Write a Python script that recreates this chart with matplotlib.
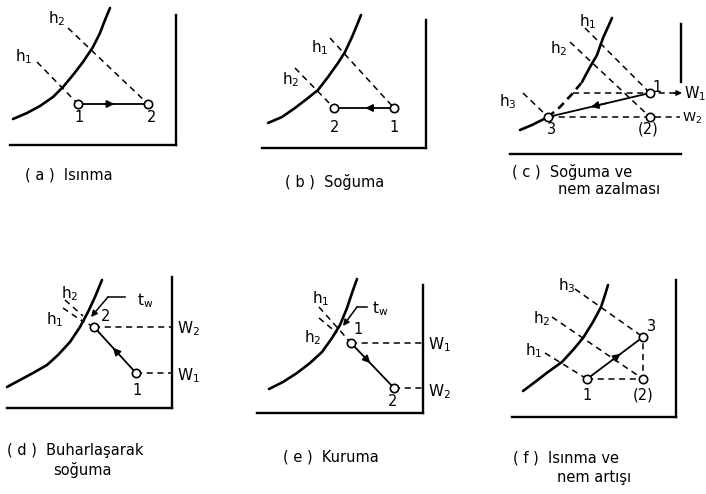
import matplotlib.pyplot as plt

plt.rcParams['font.family'] = ['DejaVu Sans']
plt.rcParams['mathtext.default'] = 'regular'

W, H = 706, 494

# local units in each panel: x = dry bulb (0 at frame left), y = humidity ratio (0 at frame bottom)
# (a) heating
sat_a_x = [3, 17, 30, 43, 53, 63, 73, 83, 90, 95, 100]
sat_a_y = [26, 32, 39, 48, 58, 70, 83, 98, 112, 125, 137]
st_a_x = [68, 138]
st_a_y = [41, 41]
h_a_x = [27, 58]
h_a_y = [83, 117]

# (b) cooling
sat_b_x = [6, 20, 33, 46, 56, 66, 76, 83, 90, 95, 99]
sat_b_y = [25, 31, 40, 50, 58, 71, 85, 96, 111, 123, 133]
st_b_x = [132, 72]
st_b_y = [40, 40]
h_b_x = [68, 33]
h_b_y = [110, 80]

# (c) cooling and dehumidifying: states 1, (2), 3
sat_c_x = [10, 22, 38, 50, 63, 72, 80, 87, 93, 98, 102]
sat_c_y = [24, 29, 37, 47, 61, 72, 87, 99, 116, 127, 136]
st_c_x = [140, 140, 38]
st_c_y = [61, 37, 37]
h_c_x = [75, 60, 13]
h_c_y = [126, 112, 61]

# (d) evaporative cooling
sat_d_x = [0, 13, 26, 40, 51, 63, 73, 81, 88, 95]
sat_d_y = [21, 28, 35, 43, 53, 66, 81, 96, 111, 128]
st_d_x = [129, 87]
st_d_y = [35, 81]
h_d_x = [56, 58]
h_d_y = [100, 108]

# (e) drying
sat_e_x = [12, 26, 40, 53, 65, 75, 83, 90, 95, 100]
sat_e_y = [24, 31, 40, 50, 61, 75, 88, 105, 120, 134]
st_e_x = [94, 137]
st_e_y = [70, 25]
h_e_x = [62, 62]
h_e_y = [106, 95]

# (f) heating and humidifying: states 1, (2), 3
sat_f_x = [11, 23, 36, 50, 61, 71, 81, 89, 93, 96]
sat_f_y = [26, 35, 45, 55, 67, 79, 95, 110, 122, 132]
st_f_x = [75, 131, 131]
st_f_y = [38, 38, 80]
h_f_x = [33, 40, 63]
h_f_y = [64, 100, 128]

fig = plt.figure(figsize=(W / 100, H / 100), dpi=100)


def panel(left, top, right, bottom):
    ax = fig.add_axes([left / W, 1 - bottom / H, (right - left) / W, (bottom - top) / H])
    ax.set_xlim(0, right - left)
    ax.set_ylim(0, bottom - top)
    ax.spines['top'].set_visible(False)
    ax.spines['left'].set_visible(False)
    ax.spines['bottom'].set_linewidth(1.7)
    ax.spines['right'].set_linewidth(1.7)
    ax.set_xticks([])
    ax.set_yticks([])
    ax.patch.set_alpha(0)
    return ax


def sat(ax, x, y, ls='-'):
    ax.plot(x, y, color='k', lw=1.9, ls=ls, clip_on=False,
            solid_capstyle='round', solid_joinstyle='round')


def dash(ax, x, y):
    ax.plot(x, y, color='k', lw=1.1, ls=(0, (4, 3)), clip_on=False)


def flow(ax, p, q, frac=0.5):
    ax.plot([p[0], q[0]], [p[1], q[1]], color='k', lw=1.3, clip_on=False)
    hx = p[0] + frac * (q[0] - p[0])
    hy = p[1] + frac * (q[1] - p[1])
    tx = p[0] + (frac - 0.15) * (q[0] - p[0])
    ty = p[1] + (frac - 0.15) * (q[1] - p[1])
    ax.annotate('', xy=(hx, hy), xytext=(tx, ty),
                arrowprops=dict(arrowstyle='-|>', color='k', lw=1.2,
                                mutation_scale=11, shrinkA=0, shrinkB=0))


def states(ax, x, y):
    ax.plot(x, y, 'o', ms=6, mfc='white', mec='k', mew=1.2, clip_on=False, zorder=5)


def label(ax, x, y, s, size=11, ha='center'):
    ax.text(x, y, s, fontsize=size, ha=ha, va='center', clip_on=False)


def caption(ax, x, y, s):
    ax.text(x, y, s, fontsize=10.5, ha='left', va='center')


# (a)
ax = panel(10, 15, 176, 145)
sat(ax, sat_a_x, sat_a_y)
for i in range(2):
    dash(ax, [h_a_x[i], st_a_x[i]], [h_a_y[i], st_a_y[i]])
flow(ax, (st_a_x[0], st_a_y[0]), (st_a_x[1], st_a_y[1]), 0.52)
states(ax, st_a_x, st_a_y)
label(ax, 14, 88, 'h$_1$')
label(ax, 47, 126, 'h$_2$')
label(ax, 69, 27, '1', 10.5)
label(ax, 142, 27, '2', 10.5)
caption(ax, 15, -30, '( a )  Isınma')

# (b)
ax = panel(262, 20, 426, 148)
sat(ax, sat_b_x, sat_b_y)
for i in range(2):
    dash(ax, [h_b_x[i], st_b_x[i]], [h_b_y[i], st_b_y[i]])
flow(ax, (st_b_x[0], st_b_y[0]), (st_b_x[1], st_b_y[1]), 0.48)
states(ax, st_b_x, st_b_y)
label(ax, 58, 100, 'h$_1$')
label(ax, 29, 68, 'h$_2$')
label(ax, 73, 21, '2', 10.5)
label(ax, 132, 21, '1', 10.5)
caption(ax, 23, -34, '( b )  Soğuma')

# (c)
ax = panel(510, 24, 681, 154)
ax.spines['right'].set_bounds(72, 130)
sat(ax, sat_c_x[:3], sat_c_y[:3])
sat(ax, sat_c_x[2:6], sat_c_y[2:6], ls=(0, (3, 2)))
sat(ax, sat_c_x[5:], sat_c_y[5:])
for i in range(3):
    dash(ax, [h_c_x[i], st_c_x[i]], [h_c_y[i], st_c_y[i]])
dash(ax, [sat_c_x[4], st_c_x[0], 166], [st_c_y[0], st_c_y[0], st_c_y[0]])
ax.annotate('', xy=(172, st_c_y[0]), xytext=(164, st_c_y[0]),
            arrowprops=dict(arrowstyle='-|>', color='k', lw=1.0, mutation_scale=8,
                            shrinkA=0, shrinkB=0), annotation_clip=False)
dash(ax, [st_c_x[2], st_c_x[1], 170], [st_c_y[2], st_c_y[1], st_c_y[1]])
flow(ax, (st_c_x[0], st_c_y[0]), (st_c_x[2], st_c_y[2]), 0.58)
states(ax, st_c_x, st_c_y)
label(ax, 78, 132, 'h$_1$')
label(ax, 49, 105, 'h$_2$')
label(ax, -2, 52, 'h$_3$')
label(ax, 147, 67, '1', 10.5)
label(ax, 41, 25, '3', 10.5)
label(ax, 138, 25, '(2)', 10.5)
label(ax, 174, 60, 'W$_1$', 10.5, ha='left')
label(ax, 172, 36, 'W$_2$', 9.5, ha='left')
caption(ax, 2, -18, '( c )  Soğuma ve')
caption(ax, 48, -36, 'nem azalması')

# (d)
ax = panel(7, 277, 172, 408)
sat(ax, sat_d_x, sat_d_y)
dash(ax, [st_d_x[1], 74], [st_d_y[1], 88])
dash(ax, [h_d_x[0], 75], [h_d_y[0], 87])
dash(ax, [h_d_x[1], 76], [h_d_y[1], 92])
for i in range(2):
    dash(ax, [st_d_x[i], 165], [st_d_y[i], st_d_y[i]])
flow(ax, (st_d_x[0], st_d_y[0]), (st_d_x[1], st_d_y[1]), 0.55)
states(ax, st_d_x, st_d_y)
ax.plot([118, 101], [111, 111], color='k', lw=1.1, clip_on=False)
ax.annotate('', xy=(84, 91), xytext=(101, 111),
            arrowprops=dict(arrowstyle='-|>', color='k', lw=1.1, mutation_scale=9,
                            shrinkA=0, shrinkB=0))
label(ax, 130, 107, 't$_w$', ha='left')
label(ax, 63, 114, 'h$_2$')
label(ax, 48, 88, 'h$_1$')
label(ax, 99, 92, '2', 10.5)
label(ax, 130, 18, '1', 10.5)
label(ax, 170, 79, 'W$_2$', ha='left')
label(ax, 170, 32, 'W$_1$', ha='left')
caption(ax, 0, -42, '( d )  Buharlaşarak')
caption(ax, 46, -62, 'soğuma')

# (e)
ax = panel(257, 285, 423, 413)
sat(ax, sat_e_x, sat_e_y)
dash(ax, [h_e_x[0], st_e_x[0]], [h_e_y[0], st_e_y[0]])
dash(ax, [h_e_x[1], 80], [h_e_y[1], 80])
for i in range(2):
    dash(ax, [st_e_x[i], 166], [st_e_y[i], st_e_y[i]])
flow(ax, (st_e_x[0], st_e_y[0]), (st_e_x[1], st_e_y[1]), 0.45)
states(ax, st_e_x, st_e_y)
ax.plot([110, 100], [106, 106], color='k', lw=1.1, clip_on=False)
ax.annotate('', xy=(86, 87), xytext=(100, 106),
            arrowprops=dict(arrowstyle='-|>', color='k', lw=1.1, mutation_scale=9,
                            shrinkA=0, shrinkB=0))
label(ax, 115, 104, 't$_w$', ha='left')
label(ax, 64, 114, 'h$_1$')
label(ax, 56, 75, 'h$_2$')
label(ax, 101, 84, '1', 10.5)
label(ax, 136, 11, '2', 10.5)
label(ax, 171, 68, 'W$_1$', ha='left')
label(ax, 171, 21, 'W$_2$', ha='left')
caption(ax, 26, -44, '( e )  Kuruma')

# (f)
ax = panel(512, 280, 676, 417)
sat(ax, sat_f_x, sat_f_y)
for i in range(3):
    dash(ax, [h_f_x[i], st_f_x[i]], [h_f_y[i], st_f_y[i]])
dash(ax, [st_f_x[0], st_f_x[1], st_f_x[2]], [st_f_y[0], st_f_y[1], st_f_y[2]])
flow(ax, (st_f_x[0], st_f_y[0]), (st_f_x[2], st_f_y[2]), 0.6)
states(ax, st_f_x, st_f_y)
label(ax, 55, 131, 'h$_3$')
label(ax, 30, 98, 'h$_2$')
label(ax, 22, 66, 'h$_1$')
label(ax, 75, 22, '1', 10.5)
label(ax, 131, 22, '(2)', 10.5)
label(ax, 139, 91, '3', 10.5)
caption(ax, 1, -41, '( f )  Isınma ve')
caption(ax, 45, -60, 'nem artışı')

fig.savefig('out.png', dpi=100)
